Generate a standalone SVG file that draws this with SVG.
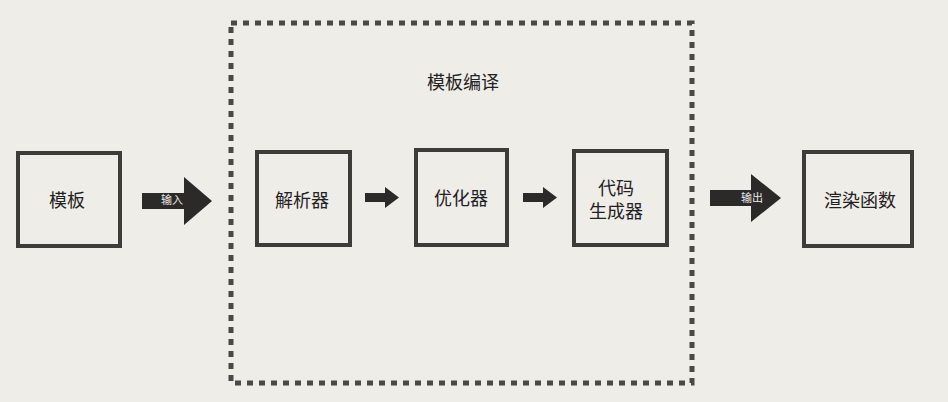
<svg xmlns="http://www.w3.org/2000/svg" width="948" height="402" viewBox="0 0 948 402">
<style>
.box{fill:none;stroke:#3d3c39;stroke-width:4}
.lbl{font-family:"Liberation Sans","Noto Sans CJK SC",sans-serif;font-size:18px;fill:#222;text-anchor:middle;dominant-baseline:central}
.small{font-family:"Liberation Sans","Noto Sans CJK SC",sans-serif;font-size:11px;fill:#e8e8e8;text-anchor:middle;dominant-baseline:central}
.arr{fill:#2b2a28}
</style>
<rect x="0" y="0" width="948" height="402" fill="#eeede8"/>
<g id="compile">
<rect x="231" y="23" width="461" height="360" fill="none" stroke="#4a4945" stroke-width="5" stroke-dasharray="6 6"/>
<text class="lbl" x="463" y="83">模板编译</text>
</g>
<g id="template">
<rect class="box" x="18" y="153" width="102" height="93"/>
<text class="lbl" x="67" y="201">模板</text>
</g>
<g id="parser">
<rect class="box" x="257" y="152" width="93" height="93"/>
<text class="lbl" x="302" y="201">解析器</text>
</g>
<g id="optimizer">
<rect class="box" x="416" y="150" width="91" height="95"/>
<text class="lbl" x="461" y="199">优化器</text>
</g>
<g id="codegen">
<rect class="box" x="574" y="151" width="93" height="94"/>
<text class="lbl" x="616" y="189">代码</text>
<text class="lbl" x="616" y="212">生成器</text>
</g>
<g id="render">
<rect class="box" x="804" y="152" width="108" height="94"/>
<text class="lbl" x="860" y="201">渲染函数</text>
</g>
<g id="connectors">
<polygon class="arr" points="142,193 184,193 184,177 212,201 184,225 184,209 142,209"/>
<text class="small" x="172" y="200">输入</text>
<polygon class="arr" points="365,193 385,193 385,187 399,197.5 385,208 385,202 365,202"/>
<polygon class="arr" points="523,193 543,193 543,187 557,197.5 543,208 543,202 523,202"/>
<polygon class="arr" points="710,190 751,190 751,174 781,198 751,222 751,206 710,206"/>
<text class="small" x="752" y="198">输出</text>
</g>
</svg>
